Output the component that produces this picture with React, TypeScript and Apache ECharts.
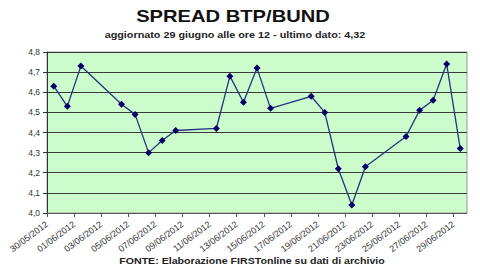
import React, { useEffect, useRef } from "react";
import * as echarts from "echarts";

const dates = [
  "30/05/2012", "31/05/2012", "01/06/2012", "04/06/2012", "05/06/2012", "06/06/2012",
  "07/06/2012", "08/06/2012", "11/06/2012", "12/06/2012", "13/06/2012", "14/06/2012",
  "15/06/2012", "18/06/2012", "19/06/2012", "20/06/2012", "21/06/2012", "22/06/2012",
  "25/06/2012", "26/06/2012", "27/06/2012", "28/06/2012", "29/06/2012",
];
const spread = [
  4.63, 4.53, 4.73, 4.54, 4.49, 4.30, 4.36, 4.41, 4.42, 4.68, 4.55, 4.72,
  4.52, 4.58, 4.50, 4.22, 4.04, 4.23, 4.38, 4.51, 4.56, 4.74, 4.32,
];
const axisStart = "30/05/2012";
const axisDays = 31;
const tickStepDays = 2;
const yMin = 4.0;
const yMax = 4.8;
const yStep = 0.1;

const titleText = "SPREAD BTP/BUND";
const subtitleText = "aggiornato 29 giugno alle ore 12 - ultimo dato: 4,32";
const footerText = "FONTE: Elaborazione FIRSTonline su dati di archivio";

const DAY = 86400000;
function parse(d: string): number {
  const [dd, mm, yy] = d.split("/").map(Number);
  return Date.UTC(yy, mm - 1, dd);
}
function fmt(t: number): string {
  const d = new Date(t);
  const p = (n: number) => (n < 10 ? "0" + n : "" + n);
  return p(d.getUTCDate()) + "/" + p(d.getUTCMonth() + 1) + "/" + d.getUTCFullYear();
}

export default function App() {
  const ref = useRef<HTMLDivElement>(null);
  useEffect(() => {
    if (!ref.current) return;
    const chart = echarts.init(ref.current, null, { renderer: "svg" });
    const t0 = parse(axisStart);
    const data = dates.map((d, i) => [(parse(d) - t0) / DAY + 0.5, spread[i]]);
    const font = "Liberation Sans, Arial, sans-serif";
    chart.setOption({
      animation: false,
      backgroundColor: "#ffffff",
      grid: { left: 47, right: 13, top: 52, bottom: 57, show: true, backgroundColor: "#ccfccc", borderColor: "#9a9a9a", borderWidth: 1 },
      graphic: [
        { type: "text", x: 233, y: 9, scaleX: 1.26, style: { text: titleText, font: "bold 16px " + font, fill: "#111", align: "center" } },
        { type: "text", x: 235, y: 30, scaleX: 1.27, style: { text: subtitleText, font: "bold 8.5px " + font, fill: "#222", align: "center" } },
        { type: "text", x: 252, y: 256, scaleX: 1.18, style: { text: footerText, font: "bold 9px " + font, fill: "#222", align: "center" } },
      ],
      xAxis: {
        type: "value",
        min: 0,
        max: axisDays,
        interval: tickStepDays,
        axisLine: { show: true, onZero: false, lineStyle: { color: "#555", width: 1 } },
        axisTick: { show: true, length: 4, lineStyle: { color: "#555" } },
        splitLine: { show: false },
        axisLabel: {
          rotate: 37,
          fontSize: 9,
          fontFamily: font,
          color: "#333",
          margin: 10,
          showMaxLabel: false,
          formatter: (v: number) => (v >= axisDays ? "" : fmt(t0 + v * DAY)),
        },
      },
      yAxis: {
        type: "value",
        min: yMin,
        max: yMax,
        interval: yStep,
        axisLine: { show: true, lineStyle: { color: "#333", width: 1 } },
        axisTick: { show: true, length: 4, lineStyle: { color: "#333" } },
        splitLine: { show: true, lineStyle: { color: "#3a3a3a", width: 1 } },
        axisLabel: {
          fontSize: 8.5,
          fontFamily: font,
          color: "#333",
          margin: 7,
          formatter: (v: number) => v.toFixed(1).replace(".", ","),
        },
      },
      series: [
        {
          type: "line",
          data,
          symbol: "diamond",
          symbolSize: 7,
          lineStyle: { color: "#24337f", width: 1.3 },
          itemStyle: { color: "#000066" },
        },
      ],
    });
    return () => chart.dispose();
  }, []);
  return <div ref={ref} style={{ position: "fixed", left: 0, top: 0, width: 480, height: 270 }} />;
}
